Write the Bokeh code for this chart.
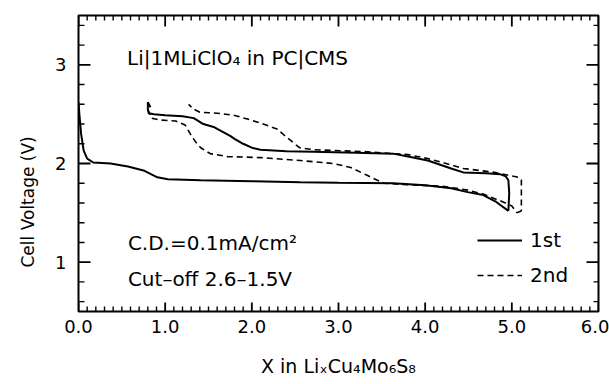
import numpy as np
from bokeh.plotting import figure
from bokeh.models import (LinearAxis, FixedTicker, Label, Legend, LegendItem, Range1d, Title)
from bokeh.embed import file_html
from bokeh.resources import INLINE

# ---- data ----
# 1st cycle, discharge (solid)
x1_dis = [0.0, 0.01, 0.03, 0.06, 0.10, 0.17, 0.37, 0.57, 0.75, 0.91, 1.03, 1.41, 2.0, 2.56, 3.0, 3.63, 4.0, 4.3, 4.49, 4.67, 4.82, 4.96]
v1_dis = [2.62, 2.50, 2.30, 2.13, 2.05, 2.01, 2.00, 1.97, 1.93, 1.86, 1.84, 1.83, 1.82, 1.81, 1.805, 1.80, 1.78, 1.75, 1.71, 1.68, 1.61, 1.52]
# 1st cycle, charge (solid)
x1_chg = [4.96, 4.97, 4.96, 4.93, 4.87, 4.70, 4.44, 4.30, 4.03, 3.80, 3.63, 3.20, 2.71, 2.40, 2.10, 2.00, 1.90, 1.80, 1.75, 1.60, 1.56, 1.44, 1.33, 1.20, 1.00, 0.87, 0.81, 0.80, 0.80, 0.83]
v1_chg = [1.52, 1.70, 1.83, 1.87, 1.89, 1.90, 1.91, 1.95, 2.03, 2.07, 2.10, 2.11, 2.12, 2.125, 2.14, 2.16, 2.20, 2.25, 2.28, 2.35, 2.37, 2.40, 2.46, 2.48, 2.49, 2.50, 2.51, 2.55, 2.62, 2.57]
# 2nd cycle, discharge (dashed)
x2_dis = [0.80, 0.84, 0.95, 1.12, 1.23, 1.29, 1.35, 1.41, 1.52, 1.72, 2.10, 2.56, 2.94, 3.14, 3.33, 3.52, 3.80, 4.20, 4.49, 4.67, 4.90, 5.00, 5.06]
v2_dis = [2.55, 2.46, 2.44, 2.43, 2.39, 2.30, 2.22, 2.16, 2.10, 2.07, 2.06, 2.03, 2.00, 1.96, 1.88, 1.80, 1.785, 1.77, 1.73, 1.69, 1.61, 1.57, 1.50]
# 2nd cycle, charge (dashed)
x2_chg = [5.06, 5.11, 5.11, 5.08, 5.02, 4.80, 4.44, 4.20, 4.03, 3.80, 3.63, 3.30, 2.71, 2.55, 2.48, 2.37, 2.29, 2.10, 1.95, 1.79, 1.60, 1.40, 1.33, 1.27]
v2_chg = [1.50, 1.52, 1.83, 1.86, 1.87, 1.91, 1.95, 2.01, 2.05, 2.09, 2.10, 2.12, 2.14, 2.16, 2.21, 2.29, 2.35, 2.41, 2.45, 2.49, 2.51, 2.52, 2.55, 2.60]

x_major = [0.0, 1.0, 2.0, 3.0, 4.0, 5.0, 6.0]
x_tick_labels = ["0.0", "1.0", "2.0", "3.0", "4.0", "5.0", "6.0"]
y_major = [1, 2, 3]
y_tick_labels = ["1", "2", "3"]
X_LO, X_HI = 0.0, 6.0
Y_LO, Y_HI = 0.5, 3.5

FONT = "DejaVu Sans"
W, H = 609, 384
BL, BR, BT, BB = 78, 11, 15, 73
FRAME_W = W - BL - BR
FRAME_H = H - BT - BB

p = figure(width=W, height=H, output_backend="svg", toolbar_location=None,
           x_range=Range1d(X_LO, X_HI), y_range=Range1d(Y_LO, Y_HI),
           x_axis_type=None, y_axis_type=None,
           min_border_left=BL, min_border_right=BR, min_border_top=BT, min_border_bottom=BB)
p.grid.visible = False
p.outline_line_color = "black"
p.outline_line_width = 2
p.background_fill_color = "white"
p.border_fill_color = "white"

x_minor = [round(i * 0.1, 1) for i in range(61) if i % 10 != 0]
y_minor = [round(0.6 + i * 0.2, 1) for i in range(15)]
y_minor = [v for v in y_minor if abs(v - round(v)) > 1e-6 and v < Y_HI]

def style_axis(ax):
    ax.major_tick_in = 0
    ax.major_tick_out = 0
    ax.minor_tick_in = 0
    ax.minor_tick_out = 0
    ax.axis_line_color = None
    ax.major_tick_line_color = None
    ax.minor_tick_line_color = None
    ax.major_label_text_font = FONT
    ax.major_label_text_font_size = "18px"
    ax.major_label_text_color = "black"

xb = LinearAxis(ticker=FixedTicker(ticks=x_major, minor_ticks=x_minor),
                major_label_overrides={t: s for t, s in zip(x_major, x_tick_labels)})
style_axis(xb)
xb.major_label_standoff = 8
xb.axis_label = "X in LiₓCu₄Mo₆S₈"
xb.axis_label_text_font = FONT
xb.axis_label_text_font_size = "19px"
xb.axis_label_text_font_style = "normal"
xb.axis_label_text_color = "black"
xb.axis_label_standoff = 19
p.add_layout(xb, "below")

yl = LinearAxis(ticker=FixedTicker(ticks=y_major, minor_ticks=y_minor),
                major_label_overrides={t: s for t, s in zip(y_major, y_tick_labels)})
style_axis(yl)
yl.major_label_standoff = 12
p.add_layout(yl, "left")

ytitle = Title(text="Cell Voltage (V)", align="left", offset=44, standoff=30,
               text_font=FONT, text_font_size="17px", text_font_style="normal",
               text_color="black")
p.add_layout(ytitle, "left")

# inward ticks on all four sides (lengths given in pixels, converted to data units)
TICK_MAJ, TICK_MIN = 11, 5
dy = (Y_HI - Y_LO) / FRAME_H
dx = (X_HI - X_LO) / FRAME_W
TICK_COLOR = "black"

def vticks(xs, y0, length_px, sign, lw):
    p.segment(x0=xs, y0=[y0] * len(xs), x1=xs, y1=[y0 + sign * length_px * dy] * len(xs),
              line_color=TICK_COLOR, line_width=lw)

def hticks(ys, x0, length_px, sign, lw):
    p.segment(x0=[x0] * len(ys), y0=ys, x1=[x0 + sign * length_px * dx] * len(ys), y1=ys,
              line_color=TICK_COLOR, line_width=lw)

vticks(x_major, Y_LO, TICK_MAJ - 2, 1, 1.8)
vticks(x_minor, Y_LO, TICK_MIN, 1, 1.4)
vticks(x_major, Y_HI, TICK_MAJ, -1, 1.8)
vticks(x_minor, Y_HI, TICK_MIN, -1, 1.4)
hticks(y_major, X_LO, TICK_MAJ + 1, 1, 1.8)
hticks(y_minor, X_LO, TICK_MIN + 1, 1, 1.4)
hticks(y_major, X_HI, TICK_MAJ + 1, -1, 1.8)
hticks(y_minor, X_HI, TICK_MIN, -1, 1.4)

r1a = p.line(x1_dis, v1_dis, line_color="black", line_width=2)
r1b = p.line(x1_chg, v1_chg, line_color="black", line_width=2)
r2a = p.line(x2_dis, v2_dis, line_color="black", line_width=1.6, line_dash="6 4")
r2b = p.line(x2_chg, v2_chg, line_color="black", line_width=1.6, line_dash="6 4")

legend = Legend(items=[LegendItem(label="1st", renderers=[r1a]),
                       LegendItem(label="2nd", renderers=[r2a])],
                location=(399, 24), padding=0, margin=0, spacing=11,
                glyph_width=45, glyph_height=20, label_height=20, label_standoff=8,
                label_text_font=FONT, label_text_font_size="20px",
                label_text_color="black",
                border_line_color=None, background_fill_alpha=0)
p.add_layout(legend)

def add_text(x, y, t):
    lab = Label(x=x, y=y, text=t, text_font=FONT, text_font_size="20px",
                text_color="black", text_baseline="middle", text_align="left")
    p.add_layout(lab)

add_text(0.56, 3.07, "Li|1MLiClO₄ in PC|CMS")
add_text(0.57, 1.19, "C.D.=0.1mA/cm²")
add_text(0.57, 0.83, "Cut–off 2.6–1.5V")

open("out.html", "w").write(file_html(p, INLINE))
